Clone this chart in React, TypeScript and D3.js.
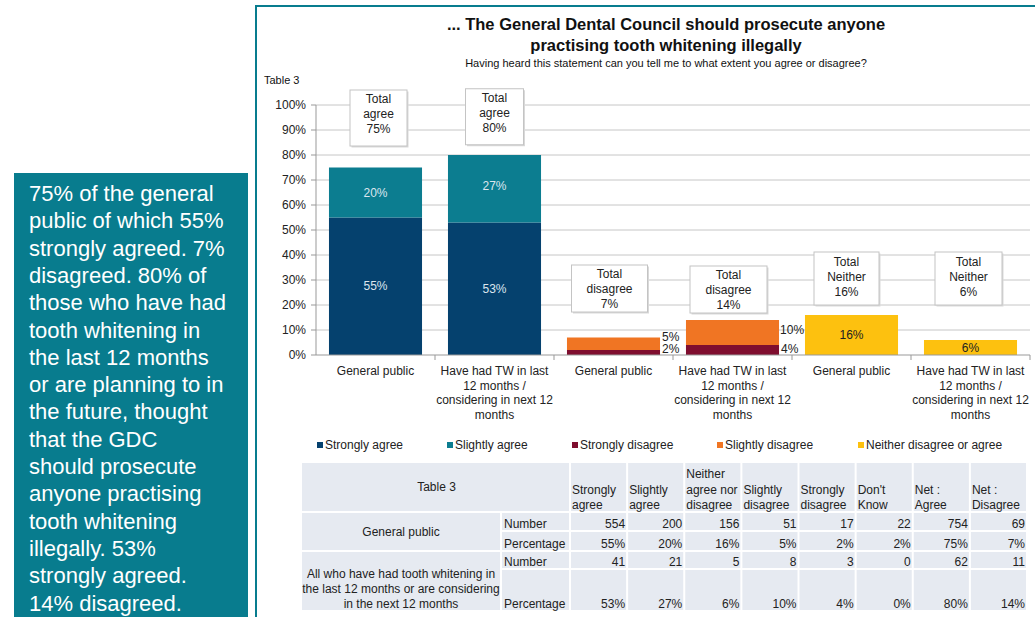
import * as d3 from "d3"

// table columns and values (Table 3)
const tableHeaders = [
  ["Strongly", "agree"],
  ["Slightly", "agree"],
  ["Neither", "agree nor", "disagree"],
  ["Slightly", "disagree"],
  ["Strongly", "disagree"],
  ["Don't", "Know"],
  ["Net :", "Agree"],
  ["Net :", "Disagree"],
]
const gpNumber = [554, 200, 156, 51, 17, 22, 754, 69]
const gpPercent = [55, 20, 16, 5, 2, 2, 75, 7]
const twNumber = [41, 21, 5, 8, 3, 0, 62, 11]
const twPercent = [53, 27, 6, 10, 4, 0, 80, 14]

// chart categories
const groupLabels = [
  ["General public"],
  ["Have had TW in last", "12 months /", "considering in next 12", "months"],
]
const categories = ["gpAgree", "twAgree", "gpDisagree", "twDisagree", "gpNeither", "twNeither"]
const categoryGroup = [0, 1, 0, 1, 0, 1]

// series in percent, per group [general public, TW]
const stronglyAgree = [gpPercent[0], twPercent[0]]
const slightlyAgree = [gpPercent[1], twPercent[1]]
const neither = [gpPercent[2], twPercent[2]]
const slightlyDisagree = [gpPercent[3], twPercent[3]]
const stronglyDisagree = [gpPercent[4], twPercent[4]]

const yTicks = [0, 10, 20, 30, 40, 50, 60, 70, 80, 90, 100]

const legendItems = [
  "Strongly agree",
  "Slightly agree",
  "Strongly disagree",
  "Slightly disagree",
  "Neither disagree or agree",
]

const summaryLines = [
  "75% of the general",
  "public of which 55%",
  "strongly agreed. 7%",
  "disagreed. 80% of",
  "those who have had",
  "tooth whitening in",
  "the last 12 months",
  "or are planning to in",
  "the future, thought",
  "that the GDC",
  "should prosecute",
  "anyone practising",
  "tooth whitening",
  "illegally. 53%",
  "strongly agreed.",
  "14% disagreed.",
]

const C = {
  sAgree: "#05416e",
  slAgree: "#0c7d90",
  sDis: "#7f0e2f",
  slDis: "#f07523",
  neither: "#fdc10f",
  teal: "#087c8e",
  grid: "#c6c6c6",
  cell: "#e6eaf1",
}
const legendColors = [C.sAgree, C.slAgree, C.sDis, C.slDis, C.neither]

const font = "'Liberation Sans', Arial, sans-serif"

const App = () => {
  const W = 1035
  const H = 617

  const x = d3
    .scaleBand()
    .domain(categories)
    .range([316, 1030])
    .paddingInner(0.218)
    .paddingOuter(0.109)
  const y = d3.scaleLinear().domain([0, 100]).range([355, 105])
  const bw = x.bandwidth()

  // stacked segments
  type Seg = { cat: string; y0: number; y1: number; color: string }
  const segs: Seg[] = []
  categories.forEach((cat, i) => {
    const g = categoryGroup[i]
    if (i < 2) {
      segs.push({ cat, y0: 0, y1: stronglyAgree[g], color: C.sAgree })
      segs.push({ cat, y0: stronglyAgree[g], y1: stronglyAgree[g] + slightlyAgree[g], color: C.slAgree })
    } else if (i < 4) {
      segs.push({ cat, y0: 0, y1: stronglyDisagree[g], color: C.sDis })
      segs.push({ cat, y0: stronglyDisagree[g], y1: stronglyDisagree[g] + slightlyDisagree[g], color: C.slDis })
    } else {
      segs.push({ cat, y0: 0, y1: neither[g], color: C.neither })
    }
  })

  // total annotation boxes
  const totals = [
    { kind: "agree", value: stronglyAgree[0] + slightlyAgree[0], level: 106, w: 57 },
    { kind: "agree", value: stronglyAgree[1] + slightlyAgree[1], level: 106.5, w: 58 },
    { kind: "disagree", value: stronglyDisagree[0] + slightlyDisagree[0], level: 36, w: 76 },
    { kind: "disagree", value: stronglyDisagree[1] + slightlyDisagree[1], level: 35.6, w: 77 },
    { kind: "Neither", value: neither[0], level: 41.2, w: 65 },
    { kind: "Neither", value: neither[1], level: 41.2, w: 67 },
  ]
  const boxOffset = [3, 0, -4, -4, -5, -2]

  // table geometry
  const tLeft = 302
  const tDataLeft = 571
  const tRight = 1028
  const colW = (tRight - tDataLeft) / tableHeaders.length
  const rows = [
    { top: 463, bottom: 511 },
    { top: 513, bottom: 530 },
    { top: 532, bottom: 550 },
    { top: 552, bottom: 568 },
    { top: 570, bottom: 610 },
  ]
  const dataRows = [
    { label: "Number", vals: gpNumber.map(String), r: rows[1] },
    { label: "Percentage", vals: gpPercent.map((v) => v + "%"), r: rows[2] },
    { label: "Number", vals: twNumber.map(String), r: rows[3] },
    { label: "Percentage", vals: twPercent.map((v) => v + "%"), r: rows[4] },
  ]

  const legendX = [317, 447, 572, 717, 858]

  return (
    <svg
      width={W}
      height={H}
      style={{ position: "absolute", left: 0, top: 0, background: "#fff" }}
      fontFamily={font}
    >
      {/* side summary box */}
      <rect x={14} y={173} width={234} height={H - 173} fill={C.teal} />
      {summaryLines.map((l, i) => (
        <text key={i} x={29} y={201 + i * 27.3} fontSize={22} fill="#fff">
          {l}
        </text>
      ))}

      {/* chart frame */}
      <rect x={255} y={5} width={W - 255} height={2} fill={C.teal} />
      <rect x={255} y={5} width={2} height={H - 5} fill={C.teal} />

      {/* titles */}
      <text x={666} y={30} textAnchor="middle" fontSize={16.5} fontWeight="bold" fill="#111">
        ... The General Dental Council should prosecute anyone
      </text>
      <text x={666} y={51} textAnchor="middle" fontSize={16.5} fontWeight="bold" fill="#111">
        practising tooth whitening illegally
      </text>
      <text x={666} y={67} textAnchor="middle" fontSize={11} fill="#111">
        Having heard this statement can you tell me to what extent you agree or disagree?
      </text>
      <text x={264} y={84} fontSize={11} fill="#111">
        Table 3
      </text>

      {/* grid and y axis */}
      {yTicks.map((t) => (
        <g key={t}>
          {t > 0 && <line x1={316} x2={1030} y1={y(t)} y2={y(t)} stroke={C.grid} />}
          <line x1={311} x2={316} y1={y(t)} y2={y(t)} stroke="#999" />
          <text x={306} y={y(t) + 4} textAnchor="end" fontSize={12} fill="#222">
            {t}%
          </text>
        </g>
      ))}
      <line x1={316} x2={316} y1={y(100)} y2={y(0)} stroke="#999" />

      {/* bars */}
      {segs.map((s, i) => (
        <rect
          key={i}
          x={x(s.cat)}
          y={y(s.y1)}
          width={bw}
          height={y(s.y0) - y(s.y1)}
          fill={s.color}
        />
      ))}

      {/* x axis */}
      <line x1={316} x2={1030} y1={y(0)} y2={y(0)} stroke="#999" />
      {categories.map((c, i) => (
        <line
          key={c}
          x1={316 + (i + 1) * x.step()}
          x2={316 + (i + 1) * x.step()}
          y1={y(0)}
          y2={y(0) + 5}
          stroke="#999"
        />
      ))}
      {categories.map((c, i) => (
        <text key={c} textAnchor="middle" fontSize={12} fill="#222">
          {groupLabels[categoryGroup[i]].map((l, j) => (
            <tspan key={j} x={x(c)! + bw / 2} y={375 + j * 14.7}>
              {l}
            </tspan>
          ))}
        </text>
      ))}

      {/* value labels */}
      {categories.map((c, i) => {
        const g = categoryGroup[i]
        const cx = x(c)! + bw / 2
        if (i < 2) {
          const a = stronglyAgree[g]
          const b = slightlyAgree[g]
          return (
            <g key={c} fontSize={12} fill="#dce6ef" textAnchor="middle">
              <text x={cx} y={y(a / 2) + 4}>{a}%</text>
              <text x={cx} y={y(a + b / 2) + 4 - (g === 1 ? 3 : 0)}>{b}%</text>
            </g>
          )
        }
        if (i < 4) {
          const a = stronglyDisagree[g]
          const b = slightlyDisagree[g]
          const ya = Math.min(y(a / 2), 349)
          const yb = Math.min(y(a + b / 2) - 3, ya - 12)
          return (
            <g key={c} fontSize={12} fill="#222">
              <text x={x(c)! + bw + 2} y={ya + 4}>{a}%</text>
              <text x={x(c)! + bw + 2 - (b >= 10 ? 1 : 0)} y={yb + 4}>{b}%</text>
            </g>
          )
        }
        const n = neither[g]
        return (
          <text key={c} x={cx} y={y(n / 2) + 4} fontSize={12} fill="#222" textAnchor="middle">
            {n}%
          </text>
        )
      })}

      {/* total boxes */}
      {totals.map((t, i) => {
        const cx = x(categories[i])! + bw / 2 + boxOffset[i]
        const top = y(t.level)
        const h = t.kind === "agree" ? 56 : t.kind === "disagree" ? 47 : 53
        const ty = t.kind === "Neither" ? top + 14 : top + 13
        return (
          <g key={i}>
            <rect x={cx - t.w / 2 + 1.5} y={top + 1.5} width={t.w} height={h} fill="#d9d9d9" />
            <rect x={cx - t.w / 2} y={top} width={t.w} height={h} fill="#fff" stroke="#c4c4c4" />
            <text textAnchor="middle" fontSize={12} fill="#222">
              {["Total", t.kind, t.value + "%"].map((l, j) => (
                <tspan key={j} x={cx} y={ty + j * 15}>
                  {l}
                </tspan>
              ))}
            </text>
          </g>
        )
      })}

      {/* legend */}
      {legendItems.map((l, i) => (
        <g key={l}>
          <rect x={legendX[i]} y={442} width={6} height={6} fill={legendColors[i]} />
          <text x={legendX[i] + 8} y={449} fontSize={12} fill="#222">
            {l}
          </text>
        </g>
      ))}

      {/* table */}
      <g fontSize={12} fill="#222">
        <rect x={tLeft} y={rows[0].top} width={tDataLeft - 2 - tLeft} height={rows[0].bottom - rows[0].top} fill={C.cell} />
        <text x={(tLeft + tDataLeft) / 2} y={491} textAnchor="middle">
          Table 3
        </text>
        {tableHeaders.map((h, i) => {
          const cx = tDataLeft + i * colW
          return (
            <g key={i}>
              <rect x={cx} y={rows[0].top} width={colW - 2} height={rows[0].bottom - rows[0].top} fill={C.cell} />
              <text>
                {h.map((l, j) => (
                  <tspan key={j} x={cx + 1} y={509 - (h.length - 1 - j) * 15.5}>
                    {l}
                  </tspan>
                ))}
              </text>
            </g>
          )
        })}
        {/* group label cells */}
        <rect x={tLeft} y={rows[1].top} width={200 - 2} height={rows[2].bottom - rows[1].top} fill={C.cell} />
        <text x={tLeft + 99} y={536} textAnchor="middle">
          General public
        </text>
        <rect x={tLeft} y={rows[3].top} width={200 - 2} height={rows[4].bottom - rows[3].top} fill={C.cell} />
        <text textAnchor="middle">
          {["All who have had tooth whitening in", "the last 12 months or are considering", "in the next 12 months"].map(
            (l, j) => (
              <tspan key={j} x={tLeft + 99} y={578 + j * 15}>
                {l}
              </tspan>
            )
          )}
        </text>
        {dataRows.map((r, ri) => (
          <g key={ri}>
            <rect x={tLeft + 200} y={r.r.top} width={tDataLeft - 2 - tLeft - 200} height={r.r.bottom - r.r.top} fill={C.cell} />
            <text x={tLeft + 202} y={r.r.bottom - 2}>
              {r.label}
            </text>
            {r.vals.map((v, i) => {
              const cx = tDataLeft + i * colW
              return (
                <g key={i}>
                  <rect x={cx} y={r.r.top} width={colW - 2} height={r.r.bottom - r.r.top} fill={C.cell} />
                  <text x={cx + colW - 3} y={r.r.bottom - 2} textAnchor="end">
                    {v}
                  </text>
                </g>
              )
            })}
          </g>
        ))}
      </g>
    </svg>
  )
}

export default App
